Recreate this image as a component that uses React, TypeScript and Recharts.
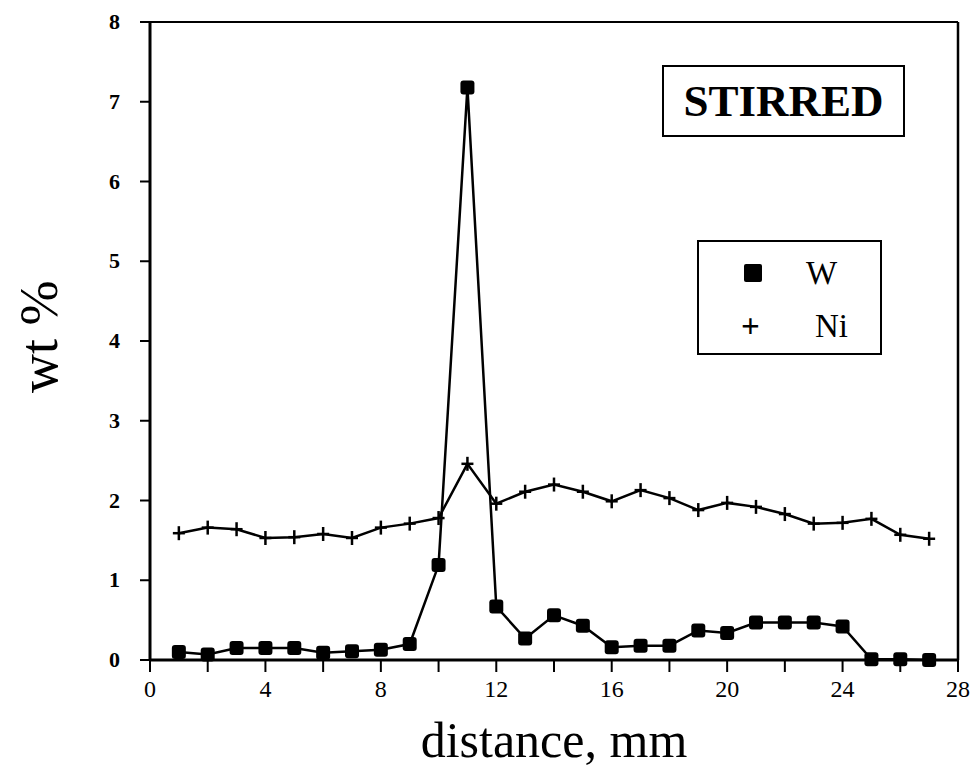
import { LineChart, Line, XAxis, YAxis, ReferenceLine } from 'recharts';

const distance = [1, 2, 3, 4, 5, 6, 7, 8, 9, 10, 11, 12, 13, 14, 15, 16, 17, 18, 19, 20, 21, 22, 23, 24, 25, 26, 27];
const wValues = [0.1, 0.07, 0.15, 0.15, 0.15, 0.09, 0.11, 0.13, 0.2, 1.19, 7.18, 0.67, 0.27, 0.56, 0.43, 0.16, 0.18, 0.18, 0.37, 0.34, 0.47, 0.47, 0.47, 0.42, 0.01, 0.01, 0.0];
const niValues = [1.59, 1.66, 1.64, 1.53, 1.54, 1.58, 1.53, 1.66, 1.71, 1.78, 2.46, 1.96, 2.11, 2.2, 2.11, 1.99, 2.13, 2.03, 1.88, 1.97, 1.92, 1.83, 1.71, 1.72, 1.77, 1.57, 1.52];
const xTicks = [0, 2, 4, 6, 8, 10, 12, 14, 16, 18, 20, 22, 24, 26, 28];
const yTicks = [0, 1, 2, 3, 4, 5, 6, 7, 8];

const data = distance.map((d, i) => ({ d, W: wValues[i], Ni: niValues[i] }));

const SERIF = '"Liberation Serif", "DejaVu Serif", serif';

const SquareDot = (props: any) => {
  const { cx, cy, index } = props;
  return <rect key={`w-${index}`} x={cx - 7} y={cy - 7} width={14} height={14} rx={3} fill="#000" />;
};

const PlusDot = (props: any) => {
  const { cx, cy, index } = props;
  return (
    <g key={`ni-${index}`}>
      <line x1={cx - 6} y1={cy} x2={cx + 6} y2={cy} stroke="#000" strokeWidth={2.5} />
      <line x1={cx} y1={cy - 7} x2={cx} y2={cy + 7} stroke="#000" strokeWidth={2.5} />
    </g>
  );
};

const XTick = ({ x, y, payload }: any) => {
  if (payload.value % 4 !== 0) return <g />;
  return (
    <text x={x} y={y} dy={23} textAnchor="middle" fontFamily={SERIF} fontSize={24} fill="#000">
      {payload.value}
    </text>
  );
};

const YTick = ({ x, y, payload }: any) => (
  <text x={x} y={y} dy={7} textAnchor="end" fontFamily={SERIF} fontSize={22} fontWeight="bold" fill="#000">
    {payload.value}
  </text>
);

export default function App() {
  return (
    <div style={{ position: 'absolute', left: 0, top: 0, width: 978, height: 771, background: '#fff' }}>
      <LineChart width={978} height={771} data={data} margin={{ top: 22, right: 20, left: 0, bottom: 0 }}>
        <XAxis
          dataKey="d"
          type="number"
          domain={[0, 28]}
          ticks={xTicks}
          interval={0}
          height={111}
          tickSize={12}
          tick={<XTick />}
          axisLine={{ stroke: '#000', strokeWidth: 3 }}
          tickLine={{ stroke: '#000', strokeWidth: 2 }}
          label={{
            value: 'distance, mm',
            position: 'insideBottom',
            offset: 14,
            fontFamily: SERIF,
            fontSize: 50,
            fill: '#000',
          }}
        />
        <YAxis
          type="number"
          domain={[0, 8]}
          ticks={yTicks}
          interval={0}
          width={150}
          tickSize={10}
          tickMargin={20}
          axisLine={{ stroke: '#000', strokeWidth: 3 }}
          tickLine={{ stroke: '#000', strokeWidth: 2 }}
          tick={<YTick />}
          label={{
            value: 'wt %',
            angle: -90,
            position: 'insideLeft',
            offset: 0,
            dx: 38,
            dy: 52,
            fontFamily: SERIF,
            fontSize: 54,
            fill: '#000',
          }}
        />
        <ReferenceLine y={8} stroke="#000" strokeWidth={2} />
        <ReferenceLine x={28} stroke="#000" strokeWidth={2.5} />
        <Line
          type="linear"
          dataKey="Ni"
          stroke="#000"
          strokeWidth={2.5}
          dot={PlusDot}
          isAnimationActive={false}
        />
        <Line
          type="linear"
          dataKey="W"
          stroke="#000"
          strokeWidth={2.5}
          dot={SquareDot}
          isAnimationActive={false}
        />
      </LineChart>
      <div
        style={{
          position: 'absolute',
          left: 697,
          top: 240,
          width: 181,
          height: 111,
          border: '2px solid #000',
          background: '#fff',
          fontFamily: SERIF,
          fontSize: 33,
        }}
      >
        <div style={{ position: 'absolute', left: 45, top: 22, width: 18, height: 18, background: '#000', borderRadius: 2 }} />
        <div style={{ position: 'absolute', left: 107, top: 11, lineHeight: '40px' }}>W</div>
        <div style={{ position: 'absolute', left: 42, top: 64, lineHeight: '40px', fontWeight: 'bold' }}>+</div>
        <div style={{ position: 'absolute', left: 116, top: 64, lineHeight: '40px' }}>Ni</div>
      </div>
      <div
        style={{
          position: 'absolute',
          left: 662,
          top: 65,
          width: 239,
          height: 68,
          border: '2.5px solid #000',
          background: '#fff',
          fontFamily: SERIF,
          fontWeight: 'bold',
          fontSize: 45,
          lineHeight: '68px',
          textAlign: 'center',
        }}
      >
        STIRRED
      </div>
    </div>
  );
}
